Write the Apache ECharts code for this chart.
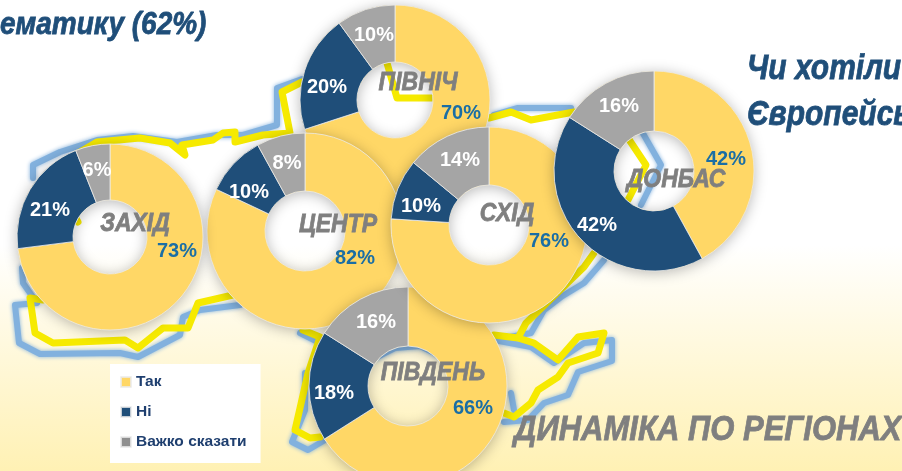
<!DOCTYPE html>
<html>
<head>
<meta charset="utf-8">
<style>html,body{margin:0;padding:0;background:#fff}#c{width:902px;height:471px}</style>
<script src="https://cdn.jsdelivr.net/npm/echarts@6/dist/echarts.min.js"></script>
</head>
<body>
<div id="c"></div>
<script>
var seriesNames = ['Так', 'Ні', 'Важко сказати'];
var regions = ['ПІВНІЧ', 'ЦЕНТР', 'ПІВДЕНЬ', 'СХІД', 'ЗАХІД', 'ДОНБАС'];
var yesValues = [70, 82, 66, 76, 73, 42];
var noValues = [20, 10, 18, 10, 21, 42];
var hardValues = [10, 8, 16, 14, 6, 16];

// layout (pixels), separate from the data
var pieCenters = [[395,100],[305,231],[408,386],[489,225],[110,237],[654,171]];
var pieOuter = [95,98,99,98,93,100];
var pieInner = [38,40,40,40,37,40];
var labelSpots = [
  [[461,113],[327,87],[374,35]],
  [[355,258],[249,192],[287,163]],
  [[473,408],[334,393],[376,322]],
  [[549,241],[421,206],[460,160]],
  [[177,251],[50,210],[97,170]],
  [[726,159],[597,225],[619,106]]
];
var regionSpots = [[418,83],[338,225],[433,373],[507,214],[135,224],[676,180]];

var colors = ['#FFD766', '#1F4E79', '#A5A5A5'];

// decorative map outline
var blueOutline = [
  [[22,268],[23,283],[37,303],[15,305],[19,343],[40,354],[120,353],[138,357],[180,335],[183,317],[200,310],[240,305]],
  [[33,178],[33,165],[60,152],[97,140],[133,136],[177,142],[217,135],[243,135],[277,125],[277,88],[302,79]],
  [[494,115],[518,108],[571,108]],
  [[641,130],[661,165],[641,205]],
  [[604,260],[584,283],[561,297],[544,310],[531,333],[494,340],[531,347],[554,363],[584,343],[612,340],[612,361],[578,372],[568,395],[544,403],[528,420],[504,422]],
  [[511,393],[514,410]],
  [[300,333],[320,343]],
  [[305,373],[305,410],[292,442],[308,450],[325,440]],
  [[375,358],[395,348],[420,346],[445,358]]
];
var yellowOutline = [
  [[78,222],[50,172],[80,152],[97,142],[140,138],[170,143],[185,155],[182,145],[213,140],[223,133],[235,132],[235,142],[263,135],[290,133],[282,92],[302,82]],
  [[387,63],[397,98],[433,98]],
  [[489,118],[511,112],[531,120],[574,112]],
  [[628,138],[646,165],[628,200]],
  [[594,253],[584,267],[526,323],[518,338],[494,335],[518,338],[534,343],[558,360],[578,337],[604,333],[598,353],[568,363],[558,377],[538,390],[531,403],[514,417],[504,413]],
  [[320,437],[310,438],[295,430],[308,373],[320,337],[303,330]],
  [[233,295],[198,303],[188,328],[163,328],[138,348],[125,340],[53,343],[35,333],[30,298],[43,300]]
];

var series = [];
regions.forEach(function (name, i) {
  var z = i + 2;
  series.push({
    type: 'pie', name: name + ' base', silent: true, z: z, animation: false,
    center: pieCenters[i], radius: [pieInner[i], pieOuter[i]],
    label: {show: false}, labelLine: {show: false},
    itemStyle: {color: '#FFD766', shadowBlur: 14, shadowColor: 'rgba(0,0,0,0.28)', shadowOffsetY: 2},
    data: [{name: ' ', value: 1}]
  });
  var spots = labelSpots[i];
  series.push({
    type: 'pie', name: name, z: z, animation: false, silent: true,
    center: pieCenters[i], radius: [pieInner[i], pieOuter[i]],
    startAngle: 90, clockwise: true, avoidLabelOverlap: false,
    labelLine: {show: false},
    itemStyle: {borderColor: 'rgba(235,235,235,0.8)', borderWidth: 1},
    labelLayout: function (p) {
      var s = spots[p.dataIndex];
      return {x: s[0], y: s[1], align: 'center', verticalAlign: 'middle'};
    },
    data: [yesValues[i], noValues[i], hardValues[i]].map(function (v, k) {
      return {
        name: seriesNames[k], value: v,
        itemStyle: {color: colors[k]},
        label: {
          show: true, position: 'inside', formatter: v + '%',
          fontFamily: '"Liberation Sans",Arial,sans-serif',
          fontWeight: 'bold', fontSize: 20,
          color: k === 0 ? '#1A6EA5' : '#FFFFFF'
        }
      };
    })
  });
});

var graphics = [];
function poly(pts, color, w, z, blur) {
  graphics.push({type: 'polyline', z: z, silent: true,
    shape: {points: pts},
    style: {stroke: color, lineWidth: w, fill: null, lineJoin: 'round', lineCap: 'round', shadowBlur: blur, shadowColor: color}});
}
blueOutline.forEach(function (p) { poly(p, '#82B1DE', 6, 0, 4); });
yellowOutline.forEach(function (p) { poly(p, '#F6EA00', 7, 1, 0); });

function txt(s, x, y, size, fill, align, sy) {
  graphics.push({type: 'text', z: 100, silent: true, x: x, y: y, scaleY: sy,
    style: {text: s, fontFamily: '"Liberation Sans",Arial,sans-serif', fontSize: size,
      fontWeight: 'bold', fontStyle: 'italic', fill: fill, stroke: fill, lineWidth: 0.7,
      align: align, verticalAlign: 'middle'}});
}
txt('ематику (62%)', 0, 25, 28, '#1F4E79', 'left', 1.15);
txt('Чи хотіли', 747, 69, 30, '#1F4E79', 'left', 1.15);
txt('Європейськ', 747, 115, 30, '#1F4E79', 'left', 1.15);
txt('ДИНАМІКА ПО РЕГІОНАХ', 514, 430, 31, '#7F7F7F', 'left', 1.15);
regions.forEach(function (r, i) {
  txt(r, regionSpots[i][0], regionSpots[i][1], 23, '#7F7F7F', 'center', 1.1);
});

var chart = echarts.init(document.getElementById('c'), null, {renderer: 'canvas'});
chart.setOption({
  animation: false,
  backgroundColor: {type: 'linear', x: 0, y: 0, x2: 0, y2: 1, colorStops: [
    {offset: 0, color: '#FFFFFF'}, {offset: 0.52, color: '#FFFFFF'}, {offset: 1, color: '#FFF1B4'}
  ]},
  legend: {
    show: true, orient: 'vertical', left: 110, top: 364, z: 50,
    selectedMode: false, backgroundColor: '#FFFFFF',
    padding: [10, 14, 13, 10], itemWidth: 10, itemHeight: 10, itemGap: 14,
    icon: 'rect',
    data: seriesNames.map(function (n, k) {
      return {name: n, itemStyle: {color: k === 2 ? '#8F8F8F' : colors[k]}};
    }),
    textStyle: {fontFamily: '"Liberation Sans",Arial,sans-serif', fontWeight: 'bold', fontSize: 15.5, color: '#1F3F6F'}
  },
  graphic: {elements: graphics},
  series: series
});
</script>
</body>
</html>
